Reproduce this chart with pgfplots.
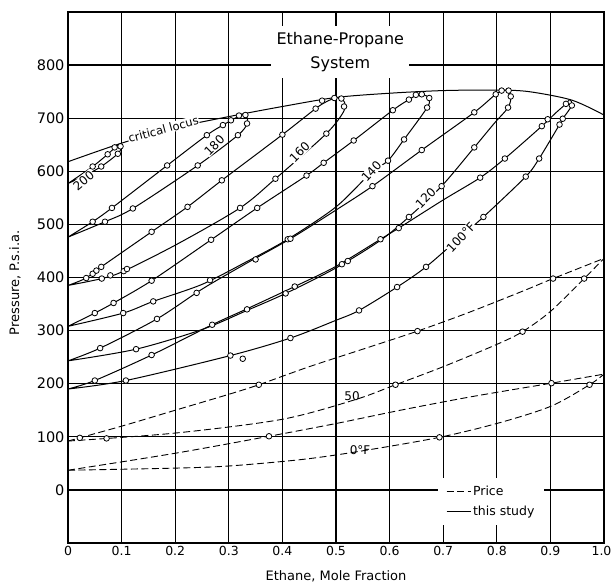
\documentclass[border=0pt]{standalone}
\usepackage{pgfplots}
\pgfplotsset{compat=1.18}
\usepackage{fontspec}
\setmainfont{DejaVu Sans}
\tikzset{lab/.style={fill=white, inner sep=0.6pt, font=\fontsize{12}{12}\selectfont}}
\begin{document}
\begin{tikzpicture}
\useasboundingbox (-68pt,-40pt) rectangle (543pt,543pt);
\begin{axis}[
  at={(0pt,0pt)}, anchor=south west,
  scale only axis, width=536pt, height=531pt,
  xmin=0, xmax=1, ymin=-100, ymax=900,
  clip=false,
  xtick={0,0.1,0.2,0.3,0.4,0.5,0.6,0.7,0.8,0.9,1},
  xticklabels={0,0.1,0.2,0.3,0.4,0.5,0.6,0.7,0.8,0.9,\hspace*{-5pt}1.0},
  ytick={0,100,200,300,400,500,600,700,800},
  grid=major,
  major grid style={black, line width=1.3pt},
  axis line style={line width=1.6pt},
  major tick length=0pt,
  xticklabel style={font=\fontsize{12.5}{12.5}\selectfont},
  yticklabel style={font=\fontsize{14.5}{14.5}\selectfont},
  /pgf/number format/assume math mode=true,
  xlabel={Ethane, Mole Fraction},
  ylabel={Pressure, P.s.i.a.},
  label style={font=\fontsize{13}{13}\selectfont},
  xlabel style={at={(axis description cs:0.5,0)}, anchor=center, yshift=-33pt},
  ylabel style={at={(axis description cs:0,0.49)}, anchor=center, yshift=53pt},
  legend style={at={(axis cs:0.69,22)}, anchor=north west, fill=white, draw=none,
    font=\fontsize{12.5}{12.5}\selectfont, inner xsep=8pt, inner ysep=6pt, row sep=5pt,
    cells={anchor=west}},
  legend image code/.code={\draw[#1] (0pt,0pt) -- (24pt,0pt);},
  solidc/.style={black, line width=1pt, smooth, tension=0.5, forget plot},
  dashc/.style={black, line width=0.9pt, smooth, tension=0.5, dash pattern=on 7pt off 3.5pt, forget plot},
]
\addlegendimage{black, line width=1pt, dash pattern=on 7pt off 3.5pt}
\addlegendentry{Price}
\addlegendimage{black, line width=1pt}
\addlegendentry{this study}

% title box
\node[fill=white, align=center, font=\fontsize{16}{24}\selectfont,
  minimum width=138pt, minimum height=52pt, inner sep=0pt] at (axis cs:0.508,825) {Ethane-Propane\\System};

% critical locus
\addplot[solidc] coordinates {(0,618) (0.1,653) (0.2,682) (0.3,703) (0.4,722) (0.5,739) (0.6,747) (0.7,752) (0.8,753) (0.86,750) (0.94,734) (1.0,706)};

% 200 F
\addplot[solidc] coordinates {(0,577) (0.046,609) (0.074,632) (0.088,645) (0.096,650) (0.099,644) (0.093,633) (0.062,609) (0.03,591) (0,577)};
% 180 F
\addplot[solidc] coordinates {(0,476) (0.046,505) (0.082,531) (0.185,611) (0.259,668) (0.289,687) (0.310,699) (0.326,707) (0.334,701) (0.334,689) (0.317,668) (0.242,611) (0.121,530) (0.069,505) (0,476)};
% 160 F
\addplot[solidc] coordinates {(0,385) (0.034,399) (0.062,420) (0.156,486) (0.223,533) (0.287,583) (0.4,669) (0.462,718) (0.482,731) (0.503,739) (0.516,730) (0.514,712) (0.482,671) (0.387,586) (0.321,531) (0.204,463) (0.104,412) (0.063,398) (0,385)};
% 140 F
\addplot[solidc] coordinates {(0,308) (0.05,333) (0.085,352) (0.156,394) (0.267,471) (0.353,531) (0.445,592) (0.477,616) (0.533,658) (0.606,715) (0.636,735) (0.655,745) (0.672,740) (0.674,728) (0.662,708) (0.627,660) (0.597,620) (0.566,598) (0.5,533) (0.41,472) (0.33,428) (0.25,387) (0.159,355) (0.103,333) (0,308)};
% 120 F
\addplot[solidc] coordinates {(0,243) (0.06,267) (0.166,322) (0.25,378) (0.33,425) (0.415,473) (0.5,527) (0.568,572) (0.66,640) (0.758,711) (0.798,745) (0.815,753) (0.826,741) (0.821,720) (0.795,690) (0.758,645) (0.697,572) (0.636,514) (0.583,470) (0.5,418) (0.406,370) (0.334,338) (0.25,302) (0.127,265) (0,243)};
% 100 F
\addplot[solidc] coordinates {(0,190) (0.05,206) (0.156,254) (0.269,311) (0.334,341) (0.423,383) (0.5,421) (0.583,472) (0.617,493) (0.7,546) (0.769,588) (0.815,624) (0.884,685) (0.91,710) (0.929,727) (0.936,735) (0.940,724) (0.923,699) (0.917,688) (0.879,624) (0.854,590) (0.775,514) (0.733,477) (0.668,420) (0.614,382) (0.543,338) (0.499,319) (0.415,286) (0.303,253) (0.108,206) (0,190)};

% Price 50 F
\addplot[dashc] coordinates {(0,92) (0.1,120) (0.2,150) (0.3,180) (0.356,198) (0.45,232) (0.55,265) (0.652,299) (0.75,335) (0.85,375) (0.905,398) (1.0,436)};
\addplot[dashc] coordinates {(0,92) (0.2,107) (0.4,133) (0.536,170) (0.611,198) (0.7,232) (0.8,274) (0.848,298) (0.9,336) (0.963,398) (1.0,436)};
% Price 0 F
\addplot[dashc] coordinates {(0,37) (0.2,69) (0.375,101) (0.5,125) (0.62,150) (0.75,175) (0.902,201) (1.0,218)};
\addplot[dashc] coordinates {(0,37) (0.2,41) (0.3,45) (0.434,57) (0.54,72) (0.693,99) (0.807,127) (0.902,158) (0.973,198) (1.0,218)};

% labels
\node[lab, rotate=15, font=\fontsize{11.5}{11.5}\selectfont] at (axis cs:0.178,679) {critical locus};
\node[lab, rotate=40] at (axis cs:0.029,583) {200};
\node[lab, rotate=45] at (axis cs:0.273,649) {180};
\node[lab, rotate=45] at (axis cs:0.432,636) {160};
\node[lab, rotate=47] at (axis cs:0.566,600) {140};
\node[lab, rotate=45] at (axis cs:0.667,550) {120};
\node[lab, rotate=47] at (axis cs:0.733,476) {100°F};
\node[font=\fontsize{12}{12}\selectfont] at (axis cs:0.53,177) {50};
\node[font=\fontsize{12}{12}\selectfont] at (axis cs:0.545,75) {0°F};

% data points
\addplot[only marks, mark=*, mark size=2.8pt, mark options={fill=white, draw=black, line width=0.8pt}, forget plot] coordinates {
(0.046,609) (0.062,609) (0.074,632) (0.093,633) (0.087,645) (0.098,647)
(0.046,505) (0.069,505) (0.082,531) (0.121,530) (0.185,611) (0.242,611) (0.259,668) (0.317,668) (0.289,687) (0.304,696) (0.319,705) (0.331,706) (0.334,690)
(0.034,399) (0.046,407) (0.053,413) (0.062,420) (0.063,398) (0.079,404) (0.104,412) (0.110,416) (0.156,486) (0.223,533) (0.287,583) (0.321,531) (0.387,586) (0.4,669) (0.482,671) (0.462,718) (0.515,722) (0.474,733) (0.497,738) (0.510,737)
(0.05,333) (0.103,333) (0.085,352) (0.159,355) (0.156,394) (0.265,395) (0.267,471) (0.41,472) (0.353,531) (0.445,592) (0.477,616) (0.533,658) (0.627,660) (0.597,620) (0.606,715) (0.636,735) (0.649,744) (0.660,745) (0.674,738) (0.670,720)
(0.06,267) (0.127,265) (0.166,322) (0.240,371) (0.269,311) (0.35,434) (0.415,473) (0.568,572) (0.66,640) (0.758,711) (0.798,745) (0.809,752) (0.822,752) (0.826,741) (0.821,720) (0.758,645) (0.697,572) (0.636,514) (0.406,370)
(0.05,206) (0.108,206) (0.156,254) (0.303,253) (0.326,247) (0.334,340) (0.423,383) (0.415,286) (0.511,425) (0.522,431) (0.543,338) (0.614,382) (0.668,420) (0.583,472) (0.617,493) (0.775,514) (0.769,588) (0.854,590) (0.815,624) (0.879,624) (0.884,685) (0.895,698) (0.917,688) (0.923,699) (0.929,727) (0.940,724)
(0.022,98) (0.072,97) (0.356,198) (0.611,198) (0.652,299) (0.848,298) (0.905,398) (0.963,398) (0.375,101) (0.693,99) (0.902,201) (0.973,198)
};
\end{axis}
\end{tikzpicture}
\end{document}
